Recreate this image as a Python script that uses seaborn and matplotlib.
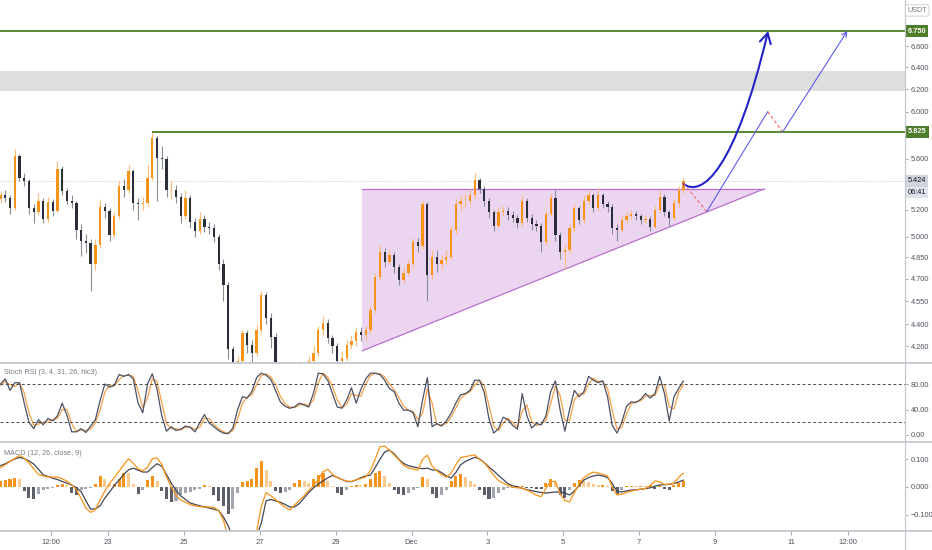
import pandas as pd
import matplotlib
matplotlib.use('Agg')
import matplotlib.pyplot as plt
import matplotlib.dates as mdates
from matplotlib.path import Path
from matplotlib.patches import FancyArrowPatch, Polygon
from matplotlib.lines import Line2D
from matplotlib.ticker import FixedLocator, FuncFormatter, NullLocator
from matplotlib.transforms import blended_transform_factory
import seaborn as sns

# ---- data (3h candles) ----
start_time = '2020-11-20 04:00'
first_open = 5.28

closes = [5.31, 5.29, 5.21, 5.62, 5.45, 5.42, 5.21, 5.18, 5.27, 5.13,
          5.26, 5.19, 5.52, 5.34, 5.27, 5.25, 5.05, 4.97, 4.95, 4.80,
          4.94, 5.22, 5.19, 5.01, 5.15, 5.38, 5.35, 5.50, 5.25, 5.24,
          5.25, 5.45, 5.77, 5.61, 5.60, 5.35, 5.35, 5.30, 5.15, 5.29,
          5.11, 5.04, 5.13, 5.07, 5.06, 5.00, 4.80, 4.66, 4.24, 4.01,
          4.17, 4.34, 4.27, 4.22, 4.36, 4.59, 4.44, 4.32, 4.10, 4.03,
          4.00, 4.03, 4.08, 4.15, 4.11, 4.17, 4.22, 4.36, 4.41, 4.31,
          4.26, 4.17, 4.19, 4.27, 4.29, 4.35, 4.33, 4.36, 4.49, 4.71,
          4.89, 4.82, 4.87, 4.78, 4.69, 4.74, 4.80, 4.96, 4.93, 5.24,
          4.73, 4.85, 4.80, 4.83, 4.85, 5.05, 5.24, 5.27, 5.27, 5.31,
          5.43, 5.36, 5.27, 5.18, 5.08, 5.18, 5.19, 5.16, 5.14, 5.10,
          5.27, 5.14, 5.09, 5.08, 4.96, 5.17, 5.29, 5.01, 4.89, 4.90,
          5.06, 5.21, 5.12, 5.27, 5.31, 5.21, 5.31, 5.24, 5.22, 5.06,
          5.05, 5.12, 5.15, 5.17, 5.15, 5.12, 5.13, 5.07, 5.20, 5.30,
          5.18, 5.14, 5.25, 5.35, 5.424]

highs = [5.34, 5.35, 5.31, 5.68, 5.64, 5.49, 5.44, 5.24, 5.33, 5.29,
         5.30, 5.28, 5.58, 5.54, 5.37, 5.31, 5.27, 5.09, 5.02, 4.98,
         4.98, 5.28, 5.25, 5.21, 5.18, 5.42, 5.44, 5.55, 5.52, 5.29,
         5.30, 5.55, 5.825, 5.79, 5.71, 5.62, 5.42, 5.39, 5.33, 5.35,
         5.31, 5.14, 5.18, 5.16, 5.11, 5.09, 5.02, 4.84, 4.68, 4.26,
         4.20, 4.37, 4.36, 4.30, 4.40, 4.62, 4.61, 4.47, 4.34, 4.12,
         4.06, 4.07, 4.11, 4.17, 4.16, 4.20, 4.26, 4.39, 4.45, 4.43,
         4.33, 4.28, 4.23, 4.30, 4.33, 4.38, 4.38, 4.39, 4.52, 4.74,
         4.94, 4.92, 4.91, 4.89, 4.80, 4.78, 4.84, 4.99, 4.99, 5.27,
         5.26, 4.90, 4.90, 4.87, 4.90, 5.08, 5.28, 5.31, 5.32, 5.36,
         5.49, 5.45, 5.38, 5.29, 5.20, 5.22, 5.23, 5.22, 5.19, 5.16,
         5.31, 5.29, 5.17, 5.12, 5.10, 5.20, 5.33, 5.35, 5.03, 4.94,
         5.09, 5.24, 5.23, 5.31, 5.35, 5.33, 5.37, 5.33, 5.27, 5.24,
         5.09, 5.15, 5.18, 5.20, 5.19, 5.17, 5.16, 5.15, 5.23, 5.35,
         5.32, 5.20, 5.28, 5.38, 5.45]

lows = [5.25, 5.26, 5.17, 5.20, 5.42, 5.38, 5.17, 5.10, 5.16, 5.10,
        5.11, 5.15, 5.18, 5.31, 5.24, 5.21, 4.98, 4.86, 4.88, 4.62,
        4.76, 4.92, 5.14, 4.97, 4.99, 5.13, 5.30, 5.33, 5.20, 5.12,
        5.20, 5.23, 5.43, 5.27, 5.52, 5.30, 5.28, 5.25, 5.10, 5.13,
        5.06, 5.00, 5.02, 5.03, 5.02, 4.96, 4.76, 4.55, 4.18, 3.95,
        3.98, 4.15, 4.22, 4.16, 4.20, 4.34, 4.40, 4.25, 4.05, 3.98,
        3.95, 3.97, 4.00, 4.05, 4.07, 4.08, 4.14, 4.20, 4.33, 4.28,
        4.22, 4.14, 4.15, 4.17, 4.24, 4.26, 4.29, 4.30, 4.34, 4.47,
        4.69, 4.78, 4.80, 4.74, 4.66, 4.67, 4.72, 4.78, 4.89, 4.91,
        4.55, 4.70, 4.75, 4.77, 4.80, 4.83, 5.02, 5.20, 5.22, 5.24,
        5.29, 5.33, 5.23, 5.14, 5.04, 5.06, 5.15, 5.12, 5.11, 5.06,
        5.08, 5.11, 5.05, 5.04, 4.89, 4.94, 5.15, 4.97, 4.84, 4.77,
        4.88, 5.04, 5.09, 5.10, 5.25, 5.18, 5.19, 5.21, 5.18, 5.02,
        4.97, 5.03, 5.10, 5.13, 5.12, 5.09, 5.10, 5.04, 5.06, 5.18,
        5.15, 5.08, 5.12, 5.22, 5.33]

stoch_k = [80, 88, 70, 82, 82, 50, 20, 10, 24, 16,
           26, 22, 30, 50, 31, 5, 5, 10, 4, 14,
           24, 54, 80, 75, 78, 95, 92, 95, 88, 50,
           35, 80, 96, 72, 30, 6, 13, 7, 9, 14,
           12, 5, 19, 32, 19, 13, 7, 3, 2, 11,
           40, 60, 58, 68, 90, 97, 94, 87, 70, 52,
           45, 42, 44, 50, 47, 44, 66, 97, 96, 86,
           65, 44, 42, 55, 74, 50, 72, 88, 97, 97,
           95, 86, 73, 68, 50, 39, 39, 35, 13, 55,
           90, 13, 18, 14, 22, 34, 50, 63, 65, 70,
           86, 86, 67, 25, 3, 10, 28, 24, 15, 9,
           65, 30, 11, 18, 16, 30, 68, 85, 39, 6,
           40, 70, 60, 68, 92, 86, 82, 85, 60, 15,
           3, 20, 45, 52, 51, 56, 65, 58, 65, 92,
           65, 22, 60, 73, 85]

stoch_d = [78, 84, 79, 76, 82, 66, 35, 15, 17, 20,
           21, 24, 26, 40, 40, 18, 5, 8, 7, 9,
           19, 39, 67, 78, 77, 87, 93, 94, 92, 69,
           43, 58, 88, 84, 51, 18, 10, 10, 8, 12,
           13, 9, 12, 26, 26, 16, 10, 5, 3, 7,
           25, 50, 59, 63, 79, 93, 96, 91, 79, 61,
           49, 44, 43, 47, 49, 46, 55, 82, 97, 91,
           76, 55, 43, 48, 65, 62, 61, 80, 93, 97,
           96, 91, 80, 71, 59, 45, 39, 37, 24, 34,
           72, 50, 16, 16, 18, 28, 42, 57, 64, 68,
           78, 86, 77, 46, 14, 7, 19, 26, 20, 12,
           37, 47, 21, 15, 17, 23, 49, 77, 62, 23,
           23, 55, 65, 64, 80, 89, 84, 84, 73, 38,
           9, 12, 33, 49, 52, 54, 61, 62, 62, 79,
           79, 44, 41, 67, 79]

macd_line = [0.070, 0.080, 0.092, 0.103, 0.114, 0.104, 0.087, 0.065, 0.045, 0.040,
             0.036, 0.036, 0.036, 0.030, 0.021, 0.008, -0.009, -0.042, -0.076, -0.092,
             -0.082, -0.047, -0.015, 0.013, 0.034, 0.057, 0.080, 0.102, 0.085, 0.066,
             0.058, 0.071, 0.102, 0.105, 0.082, 0.036, 0.000, -0.029, -0.047, -0.055,
             -0.064, -0.068, -0.071, -0.072, -0.072, -0.074, -0.085, -0.120, -0.180, -0.230,
             -0.250, -0.240, -0.220, -0.200, -0.160, -0.070, -0.020, -0.032, -0.045, -0.060,
             -0.073, -0.083, -0.065, -0.048, -0.032, -0.012, 0.004, 0.028, 0.055, 0.064,
             0.046, 0.034, 0.027, 0.021, 0.020, 0.026, 0.031, 0.036, 0.060, 0.100,
             0.145, 0.148, 0.133, 0.116, 0.098, 0.078, 0.069, 0.065, 0.061, 0.100,
             0.115, 0.076, 0.058, 0.045, 0.036, 0.050, 0.080, 0.106, 0.110, 0.113,
             0.116, 0.100, 0.087, 0.066, 0.042, 0.023, 0.014, 0.005, -0.001, -0.003,
             -0.004, -0.011, -0.020, -0.030, -0.035, -0.005, 0.020, 0.020, -0.025, -0.049,
             -0.054, -0.020, 0.010, 0.034, 0.045, 0.054, 0.050, 0.046, 0.040, 0.000,
             -0.029, -0.026, -0.020, -0.015, -0.011, -0.008, -0.005, 0.005, 0.022, 0.018,
             0.009, 0.010, 0.014, 0.035, 0.050]

signal_line = [0.077, 0.084, 0.093, 0.101, 0.107, 0.102, 0.094, 0.083, 0.064, 0.044,
               0.038, 0.032, 0.027, 0.020, 0.014, 0.007, -0.003, -0.017, -0.050, -0.080,
               -0.079, -0.068, -0.040, -0.018, 0.006, 0.025, 0.046, 0.062, 0.068, 0.061,
               0.054, 0.054, 0.070, 0.084, 0.075, 0.045, 0.014, -0.012, -0.032, -0.045,
               -0.058, -0.063, -0.068, -0.072, -0.076, -0.080, -0.085, -0.108, -0.140, -0.180,
               -0.210, -0.220, -0.210, -0.200, -0.180, -0.130, -0.050, -0.045, -0.050, -0.055,
               -0.063, -0.072, -0.072, -0.060, -0.040, -0.020, -0.003, 0.010, 0.022, 0.033,
               0.042, 0.035, 0.027, 0.020, 0.019, 0.026, 0.034, 0.040, 0.043, 0.070,
               0.100, 0.126, 0.134, 0.120, 0.100, 0.085, 0.077, 0.073, 0.069, 0.066,
               0.068, 0.062, 0.061, 0.052, 0.040, 0.032, 0.052, 0.080, 0.092, 0.100,
               0.107, 0.102, 0.088, 0.072, 0.058, 0.042, 0.027, 0.012, 0.004, 0.001,
               -0.005, -0.010, -0.013, -0.017, -0.020, -0.022, -0.020, -0.018, -0.018, -0.022,
               -0.029, -0.015, 0.005, 0.025, 0.034, 0.040, 0.043, 0.040, 0.034, 0.012,
               -0.016, -0.018, -0.014, -0.011, -0.010, -0.008, -0.006, -0.003, 0.003, 0.007,
               0.008, 0.010, 0.013, 0.018, 0.025]

macd_hist = [0.020, 0.025, 0.028, 0.034, 0.030, -0.015, -0.038, -0.045, -0.025, -0.010,
             -0.008, -0.004, 0.008, 0.010, 0.006, -0.020, -0.028, -0.012, -0.006, -0.004,
             0.010, 0.040, 0.030, 0.010, 0.012, 0.030, 0.052, 0.050, 0.012, -0.025,
             -0.010, 0.025, 0.038, 0.020, -0.015, -0.045, -0.055, -0.050, -0.030, -0.020,
             -0.018, -0.012, -0.008, 0.006, 0.004, -0.030, -0.050, -0.070, -0.098, -0.080,
             -0.020, 0.018, 0.022, 0.030, 0.070, 0.094, 0.060, 0.020, -0.015, -0.020,
             -0.018, -0.010, 0.015, 0.025, 0.020, 0.015, 0.030, 0.045, 0.050, 0.020,
             0.005, -0.020, -0.030, -0.010, 0.005, 0.008, 0.006, 0.010, 0.030, 0.050,
             0.058, 0.040, 0.015, -0.010, -0.025, -0.030, -0.020, -0.012, -0.005, 0.035,
             0.030, -0.025, -0.040, -0.030, -0.010, 0.020, 0.040, 0.047, 0.035, 0.020,
             0.010, -0.010, -0.030, -0.045, -0.040, -0.020, -0.010, -0.005, -0.003, 0.002,
             0.004, -0.003, -0.005, -0.006, -0.008, 0.015, 0.030, 0.020, -0.030, -0.040,
             -0.010, 0.015, 0.025, 0.022, 0.018, 0.012, 0.006, 0.008, 0.005, -0.015,
             -0.025, -0.010, 0.004, 0.005, 0.004, 0.005, 0.004, 0.006, -0.008, 0.004,
             -0.008, -0.010, 0.008, 0.015, 0.020]

price_ticks = [4.26, 4.40, 4.55, 4.70, 4.85, 5.00, 5.20, 5.60, 6.00, 6.20, 6.40, 6.60]
stoch_ticks = [0, 40, 80]
macd_ticks = [-0.1, 0.0, 0.1]
macd_tick_labels = ['\u22120.100', '0.000', '0.100']
xtick_times = ['2020-11-21 12:00', '2020-11-23', '2020-11-25', '2020-11-27', '2020-11-29',
               '2020-12-01', '2020-12-03', '2020-12-05', '2020-12-07', '2020-12-09',
               '2020-12-11', '2020-12-12 12:00']
xtick_labels = ['12:00', '23', '25', '27', '29', 'Dec', '3', '5', '7', '9', '11', '12:00']

target_hi = 6.750
resistance = 5.825
last_price = 5.424
zone = (6.18, 6.37)

UP = '#f7931a'
DN = '#2a2e39'
GREEN = '#578a33'
GRID = '#c5c8cf'
TXT = '#50535e'


def num(s):
    return mdates.date2num(pd.Timestamp(s))


sns.set_theme(style='white')
plt.rcParams['font.family'] = ['Liberation Sans', 'DejaVu Sans']

df = pd.DataFrame({'time': pd.date_range(start_time, periods=len(closes), freq='3h'),
                   'close': closes, 'high': highs, 'low': lows,
                   'k': stoch_k, 'd': stoch_d,
                   'macd': macd_line, 'signal': signal_line, 'hist': macd_hist})
df['open'] = [first_open] + closes[:-1]
df['t'] = mdates.date2num(df['time'].values)

fig = plt.figure(figsize=(9.32, 5.5), dpi=100)
ax = fig.add_axes([0, 0.34, 0.971, 0.66])
ax2 = fig.add_axes([0, 0.19636, 0.971, 0.1418], sharex=ax)
ax3 = fig.add_axes([0, 0.03455, 0.971, 0.1618], sharex=ax)

# ---- price panel ----
ax.set_yscale('log')
ax.axhspan(zone[0], zone[1], color='#dedede', lw=0, zorder=0)
ax.axhline(last_price, color='#b8b8b8', lw=0.6, ls=(0, (1, 2)), zorder=0)

tri_left = num('2020-11-29 16:40')
tri_right = num('2020-12-10 07:00')
tri = Polygon([(tri_left, 4.231), (tri_left, 5.36), (tri_right, 5.36)], closed=True,
              fc='#ce93d8', alpha=0.38, ec='none', zorder=1)
ax.add_patch(tri)
ax.plot([tri_left, tri_right], [5.36, 5.36], color='#b86fd0', lw=0.9, zorder=2)
ax.plot([tri_left, tri_right], [4.231, 5.36], color='#b86fd0', lw=0.9, zorder=2)

up = df['close'] >= df['open']
for mask, body, wick in [(up, UP, '#f9bd78'), (~up, DN, '#8a8d96')]:
    d = df[mask]
    ax.vlines(d['t'], d['low'], d['high'], color=wick, lw=0.8, zorder=3)
    ax.bar(d['t'], (d['close'] - d['open']).abs(), bottom=d[['open', 'close']].min(axis=1),
           width=0.06, color=body, lw=0, zorder=4)

ax.axhline(target_hi, color=GREEN, lw=1.4, zorder=5)
ax.hlines(resistance, num('2020-11-24 04:00'), num('2020-12-20'), color=GREEN, lw=1.4, zorder=5)

# projected paths
curve = Path([(num('2020-12-08 04:00'), 5.40), (num('2020-12-08 15:40'), 5.29),
              (num('2020-12-09 12:40'), 5.51), (num('2020-12-10 09:35'), 6.75)],
             [Path.MOVETO, Path.CURVE4, Path.CURVE4, Path.CURVE4])
ax.add_patch(FancyArrowPatch(path=curve, arrowstyle='->,head_length=0.45,head_width=0.25',
                             mutation_scale=16, color='#2323c8', lw=1.5, zorder=6))
ax.plot([num('2020-12-08 04:00'), num('2020-12-08 18:45')], [5.405, 5.185],
        color='#ef6a6a', lw=0.8, ls=(0, (3, 2)), zorder=6)
ax.plot([num('2020-12-08 18:45'), num('2020-12-10 09:20')], [5.185, 6.0],
        color='#5b5bea', lw=0.8, zorder=6)
ax.plot([num('2020-12-10 09:20'), num('2020-12-10 18:45')], [6.0, resistance],
        color='#ef6a6a', lw=0.8, ls=(0, (3, 2)), zorder=6)
ax.annotate('', xy=(num('2020-12-12 11:40'), 6.75), xytext=(num('2020-12-10 18:45'), resistance),
            arrowprops=dict(arrowstyle='->', color='#5b5bea', lw=0.8, shrinkA=0, shrinkB=0,
                            mutation_scale=9), zorder=6)

ax.set_ylim(4.157, 7.0626)
ax.yaxis.set_major_locator(FixedLocator(price_ticks))
ax.yaxis.set_major_formatter(FuncFormatter(lambda v, p: f'{v:.3f}'))
ax.yaxis.set_minor_locator(NullLocator())

# ---- stoch rsi ----
sns.lineplot(x=df['t'], y=df['d'], ax=ax2, color='#f5a14a', lw=0.9, errorbar=None)
sns.lineplot(x=df['t'], y=df['k'], ax=ax2, color='#4b5064', lw=0.9, errorbar=None)
for lvl in (80, 20):
    ax2.axhline(lvl, color='#4a4a4a', lw=0.7, ls=(0, (3, 2.5)))
ax2.set_ylim(-11, 111.4)
ax2.set_yticks(stoch_ticks)
ax2.yaxis.set_major_formatter(FuncFormatter(lambda v, p: f'{v:.2f}'))
ax2.text(0.004, 0.885, 'Stoch RSI (3, 4, 31, 26, hlc3)', transform=ax2.transAxes,
         fontsize=5.2, color='#787b86', va='center')

# ---- macd ----
hist_prev = [0.0] + macd_hist[:-1]
hist_cols = []
for h, p in zip(macd_hist, hist_prev):
    if h >= 0:
        hist_cols.append('#f7931a' if h >= p else '#fcc98e')
    else:
        hist_cols.append('#5d606b' if h < p else '#a3a6ae')
ax3.bar(df['t'], df['hist'], width=0.08, color=hist_cols, lw=0, zorder=2)
sns.lineplot(x=df['t'], y=df['signal'], ax=ax3, color='#434651', lw=0.9, errorbar=None, zorder=3)
sns.lineplot(x=df['t'], y=df['macd'], ax=ax3, color='#f7931a', lw=0.9, errorbar=None, zorder=3)
ax3.set_ylim(-0.159, 0.1625)
ax3.set_yticks(macd_ticks)
ax3.set_yticklabels(macd_tick_labels)
ax3.text(0.004, 0.876, 'MACD (12, 26, close, 9)', transform=ax3.transAxes,
         fontsize=5.2, color='#787b86', va='center')

# ---- axes styling ----
x0 = num('2020-11-23') - 2.847
ax.set_xlim(x0, x0 + 23.853)
for a in (ax, ax2, ax3):
    a.set_facecolor('white')
    a.grid(False)
    a.set_xlabel('')
    a.set_ylabel('')
    a.yaxis.tick_right()
    a.tick_params(axis='y', which='both', length=2.5, width=0.6, color='#9598a1',
                  labelsize=5.3, labelcolor=TXT, pad=1.5, right=True, left=False)
    for s in a.spines.values():
        s.set_visible(False)
for a in (ax, ax2):
    a.tick_params(axis='x', bottom=False, labelbottom=False)
ax3.set_xticks([num(s) for s in xtick_times])
ax3.set_xticklabels(xtick_labels)
ax3.tick_params(axis='x', length=3, width=0.6, color='#9598a1', labelsize=5.5,
                labelcolor=TXT, pad=3, bottom=True)

# separators and right axis line
for yf in (0.34, 0.19636, 0.03455):
    fig.add_artist(Line2D([0, 1], [yf, yf], color=GRID, lw=1.3))
fig.add_artist(Line2D([0.971, 0.971], [0, 1], color=GRID, lw=0.9))

# price labels on the right scale
trans = blended_transform_factory(ax.transAxes, ax.transData)
for val in (target_hi, resistance):
    ax.text(1.003, val, f'{val:.3f}', transform=trans, ha='left', va='center', fontsize=5.3,
            color='white', fontweight='bold', clip_on=False,
            bbox=dict(boxstyle='square,pad=0.3', fc='#4e7d2b', ec='none'))
ax.text(1.003, last_price, f'{last_price:.3f}', transform=trans, ha='left', va='center',
        fontsize=5.3, color='#131722', clip_on=False,
        bbox=dict(boxstyle='square,pad=0.3', fc='#d1d4dc', ec='none'))
ax.text(1.003, 5.33, '06:41', transform=trans, ha='left', va='center', fontsize=5.3,
        color='#131722', clip_on=False,
        bbox=dict(boxstyle='square,pad=0.3', fc='#e0e3eb', ec='none'))
fig.text(0.984, 0.981, 'USDT', ha='center', va='center', fontsize=5.2, color='#787b86',
         bbox=dict(boxstyle='round,pad=0.3', fc='white', ec='#c5c8cf', lw=0.6))

fig.savefig('out.png', dpi=100)
